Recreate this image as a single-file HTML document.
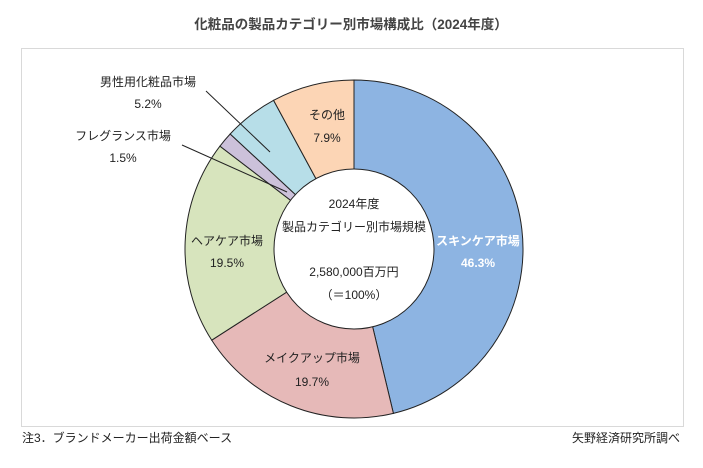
<!DOCTYPE html>
<html><head><meta charset="utf-8"><style>
body{margin:0;background:#fff;width:703px;height:463px;overflow:hidden}
svg text{font-family:"Liberation Sans","Noto Sans CJK JP",sans-serif;font-size:12px;fill:#222}
</style></head><body>
<svg id="s" width="703" height="463" xmlns="http://www.w3.org/2000/svg">
<rect x="0" y="0" width="703" height="463" fill="#fff"/>
<text x="351" y="29" text-anchor="middle" style="font-size:13.5px;font-weight:bold;fill:#444">化粧品の製品カテゴリー別市場構成比（2024年度）</text>
<rect x="21.5" y="48.5" width="662" height="378" fill="none" stroke="#d9d9d9"/>
<g id="pie"></g>
<circle cx="354" cy="249" r="80" fill="#fff" stroke="#222" stroke-width="1"/>
<g text-anchor="middle">
<text x="354" y="208">2024年度</text>
<text x="354" y="231">製品カテゴリー別市場規模</text>
<text x="354" y="276">2,580,000百万円</text>
<text x="354" y="299">（＝100%）</text>
<text x="478" y="245" style="fill:#fff;font-weight:bold">スキンケア市場</text>
<text x="478" y="267" style="fill:#fff;font-weight:bold">46.3%</text>
<text x="312" y="362">メイクアップ市場</text>
<text x="312" y="386">19.7%</text>
<text x="227" y="245">ヘアケア市場</text>
<text x="227" y="267">19.5%</text>
<text x="327" y="119">その他</text>
<text x="327" y="142">7.9%</text>
<text x="148" y="86">男性用化粧品市場</text>
<text x="148" y="108">5.2%</text>
<text x="123" y="140">フレグランス市場</text>
<text x="123" y="162">1.5%</text>
</g>
<line x1="206" y1="91" x2="270" y2="152" stroke="#222"/>
<line x1="182" y1="145" x2="287" y2="192" stroke="#222"/>
<text x="22" y="442">注3．ブランドメーカー出荷金額ベース</text>
<text x="680" y="442" text-anchor="end">矢野経済研究所調べ</text>
</svg>
<script>
var d=[[46.3,"#8DB4E2"],[19.7,"#E6B9B8"],[19.5,"#D7E4BD"],[1.5,"#CCC1DA"],[5.2,"#B7DEE8"],[7.9,"#FCD5B5"]];
var cx=354,cy=249,R=169,a=0,tot=100.1,g=document.getElementById("pie"),h="";
function p(ang){return [cx+R*Math.sin(ang),cy-R*Math.cos(ang)];}
d.forEach(function(s){var a1=a+s[0]/tot*2*Math.PI;var P=p(a),Q=p(a1);
h+='<path d="M'+cx+','+cy+'L'+P[0]+','+P[1]+'A'+R+','+R+' 0 '+(a1-a>Math.PI?1:0)+' 1 '+Q[0]+','+Q[1]+'Z" fill="'+s[1]+'" stroke="#222" stroke-width="1"/>';a=a1;});
g.innerHTML=h;
</script>
</body></html>
